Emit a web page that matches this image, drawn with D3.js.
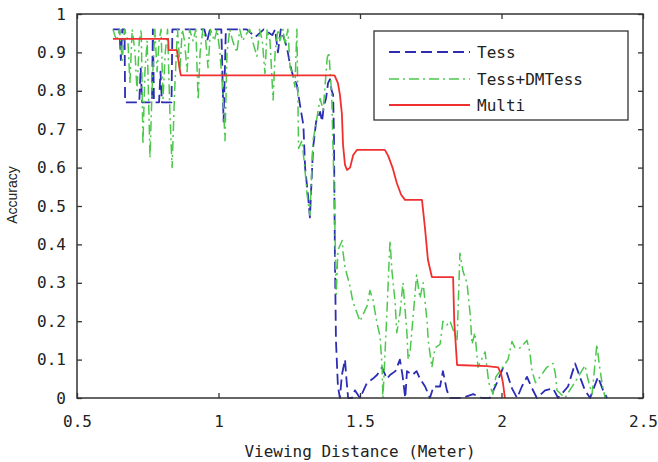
<!DOCTYPE html>
<html>
<head>
<meta charset="utf-8">
<script src="https://cdn.jsdelivr.net/npm/d3@7"></script>
<style>
body { margin: 0; background: #fff; }
.tick text { font-family: "DejaVu Sans Mono", monospace; font-size: 16px; fill: #222; }
</style>
</head>
<body>
<svg id="chart" width="658" height="462"></svg>
<script>
// [distance, accuracy]
var tess = [[0.627,0.96],[0.650,0.96],[0.655,0.88],[0.660,0.96],[0.668,0.96],[0.670,0.77],[0.700,0.77],[0.720,0.77],[0.725,0.86],
  [0.730,0.77],[0.765,0.77],[0.768,0.96],[0.772,0.77],[0.790,0.77],[0.795,0.85],[0.800,0.77],[0.834,0.77],[0.837,0.96],
  [0.900,0.96],[0.950,0.96],[0.960,0.93],[0.970,0.96],[1.010,0.96],[1.018,0.72],[1.026,0.96],[1.100,0.96],[1.130,0.94],
  [1.160,0.96],[1.190,0.945],[1.200,0.96],[1.210,0.90],[1.220,0.96],[1.235,0.93],[1.245,0.90],[1.253,0.867],[1.263,0.84],
  [1.277,0.815],[1.288,0.763],[1.300,0.71],[1.306,0.60],[1.316,0.53],[1.323,0.47],[1.334,0.65],[1.345,0.72],[1.352,0.73],
  [1.359,0.745],[1.366,0.72],[1.372,0.76],[1.380,0.78],[1.387,0.82],[1.394,0.83],[1.400,0.80],[1.405,0.79],[1.408,0.68],
  [1.411,0.40],[1.415,0.15],[1.422,0.03],[1.429,0.0],[1.436,0.06],[1.447,0.10],[1.452,0.05],[1.458,0.0],[1.472,0.0],
  [1.482,0.02],[1.500,0.0],[1.525,0.04],[1.545,0.05],[1.560,0.06],[1.578,0.08],[1.595,0.05],[1.606,0.06],[1.625,0.07],
  [1.641,0.10],[1.650,0.06],[1.660,0.0],[1.666,0.07],[1.685,0.06],[1.700,0.07],[1.712,0.05],[1.730,0.03],[1.747,0.0],
  [1.760,0.03],[1.783,0.03],[1.793,0.07],[1.807,0.02],[1.818,0.0],[1.860,0.0],[1.900,0.01],[1.930,0.0],[1.959,0.0],
  [1.984,0.04],[2.005,0.078],[2.019,0.065],[2.037,0.025],[2.055,0.0],[2.072,0.03],[2.090,0.055],[2.108,0.025],[2.125,0.0],
  [2.154,0.02],[2.182,0.025],[2.200,0.0],[2.235,0.03],[2.260,0.09],[2.277,0.055],[2.295,0.02],[2.313,0.0],[2.341,0.055],
  [2.359,0.02],[2.373,0.0]];

var tessDm = [[0.627,0.96],[0.640,0.93],[0.650,0.96],[0.660,0.88],[0.668,0.96],[0.680,0.93],[0.687,0.82],[0.695,0.96],
  [0.705,0.90],[0.712,0.80],[0.720,0.93],[0.727,0.96],[0.733,0.66],[0.740,0.85],[0.748,0.93],[0.758,0.625],[0.765,0.80],
  [0.775,0.96],[0.783,0.85],[0.790,0.93],[0.797,0.96],[0.804,0.78],[0.812,0.90],[0.820,0.96],[0.828,0.75],[0.836,0.60],
  [0.845,0.80],[0.855,0.96],[0.864,0.86],[0.872,0.96],[0.880,0.93],[0.889,0.85],[0.898,0.96],[0.910,0.93],[0.920,0.96],
  [0.928,0.776],[0.935,0.90],[0.945,0.96],[0.955,0.93],[0.963,0.86],[0.972,0.96],[0.985,0.93],[0.995,0.96],[1.005,0.90],
  [1.015,0.80],[1.023,0.67],[1.030,0.90],[1.040,0.96],[1.050,0.93],[1.065,0.90],[1.075,0.96],[1.085,0.93],[1.100,0.95],
  [1.110,0.96],[1.120,0.93],[1.136,0.89],[1.145,0.96],[1.155,0.93],[1.164,0.845],[1.172,0.96],[1.182,0.93],[1.193,0.776],
  [1.200,0.90],[1.210,0.96],[1.217,0.93],[1.228,0.96],[1.235,0.92],[1.245,0.96],[1.253,0.86],[1.260,0.85],[1.270,0.81],
  [1.277,0.96],[1.283,0.65],[1.295,0.67],[1.305,0.60],[1.313,0.53],[1.323,0.476],[1.334,0.67],[1.348,0.73],[1.359,0.78],
  [1.370,0.75],[1.384,0.885],[1.390,0.90],[1.400,0.79],[1.410,0.495],[1.416,0.27],[1.422,0.385],[1.437,0.41],[1.440,0.38],
  [1.447,0.34],[1.465,0.29],[1.475,0.25],[1.490,0.22],[1.500,0.20],[1.525,0.24],[1.535,0.28],[1.546,0.255],[1.560,0.195],
  [1.571,0.16],[1.578,0.08],[1.581,0.0],[1.595,0.22],[1.606,0.41],[1.613,0.33],[1.624,0.25],[1.630,0.17],[1.641,0.22],
  [1.652,0.30],[1.666,0.167],[1.670,0.10],[1.677,0.12],[1.700,0.32],[1.712,0.26],[1.723,0.30],[1.737,0.20],[1.741,0.15],
  [1.754,0.08],[1.765,0.13],[1.783,0.14],[1.793,0.20],[1.807,0.19],[1.818,0.20],[1.843,0.15],[1.853,0.377],[1.864,0.33],
  [1.878,0.30],[1.889,0.22],[1.896,0.14],[1.906,0.17],[1.917,0.08],[1.942,0.12],[1.955,0.04],[1.970,0.01],[1.980,0.055],
  [2.023,0.10],[2.037,0.147],[2.048,0.13],[2.065,0.13],[2.090,0.15],[2.100,0.12],[2.108,0.07],[2.120,0.04],[2.136,0.055],
  [2.160,0.08],[2.182,0.09],[2.190,0.065],[2.196,0.02],[2.224,0.0],[2.267,0.05],[2.295,0.085],[2.305,0.05],[2.320,0.01],
  [2.337,0.14],[2.345,0.09],[2.355,0.04],[2.366,0.0]];

var multi = [[0.627,0.935],[0.822,0.935],[0.824,0.906],[0.853,0.906],[0.862,0.86],[0.867,0.84],[1.410,0.84],[1.422,0.82],
  [1.429,0.79],[1.436,0.74],[1.440,0.66],[1.447,0.607],[1.454,0.594],[1.465,0.60],[1.476,0.633],[1.489,0.646],[1.588,0.646],
  [1.600,0.63],[1.615,0.60],[1.630,0.56],[1.645,0.53],[1.659,0.516],[1.719,0.516],[1.730,0.44],[1.740,0.36],[1.754,0.315],
  [1.829,0.315],[1.833,0.2],[1.843,0.086],[1.949,0.083],[1.988,0.080],[1.998,0.065],[2.005,0.04],[2.012,0.0]];

var seriesNames = ["Tess", "Tess+DMTess", "Multi"];
var xTicks = [0.5, 1, 1.5, 2, 2.5];
var yTicks = [0, 0.1, 0.2, 0.3, 0.4, 0.5, 0.6, 0.7, 0.8, 0.9, 1];

var svg = d3.select("#chart"),
    margin = {left: 77, right: 15, top: 14, bottom: 64},
    width = 658 - margin.left - margin.right,
    height = 462 - margin.top - margin.bottom,
    g = svg.append("g").attr("transform", "translate(" + margin.left + "," + margin.top + ")");

var x = d3.scaleLinear().domain([0.5, 2.5]).range([0, width]);
var y = d3.scaleLinear().domain([0, 1]).range([height, 0]);

var styles = [
  {color: "#2c2cb4", dash: "11,5", w: 1.8},
  {color: "#4cc84c", dash: "10,4,2,4", w: 1.5},
  {color: "#f03030", dash: null, w: 1.8}
];

// axes, ticks pointing inward
g.append("g").attr("transform", "translate(0," + height + ")")
  .call(d3.axisBottom(x).tickValues(xTicks).tickFormat(d3.format("")).tickSize(-5).tickSizeOuter(0).tickPadding(18));
g.append("g")
  .call(d3.axisLeft(y).tickValues(yTicks).tickFormat(d3.format("")).tickSize(-5).tickSizeOuter(0).tickPadding(11));
g.append("g")
  .call(d3.axisTop(x).tickValues(xTicks).tickFormat("").tickSize(-5).tickSizeOuter(0));
g.append("g").attr("transform", "translate(" + width + ",0)")
  .call(d3.axisRight(y).tickValues(yTicks).tickFormat("").tickSize(-5).tickSizeOuter(0));
g.selectAll(".domain").remove();
g.selectAll(".tick line").attr("stroke", "#333").attr("stroke-width", 1.3);

var line = d3.line().x(function (d) { return x(d[0]); }).y(function (d) { return y(d[1]); });

[tess, tessDm, multi].forEach(function (data, i) {
  g.append("path").datum(data)
    .attr("d", line)
    .attr("fill", "none")
    .attr("stroke", styles[i].color)
    .attr("stroke-width", styles[i].w)
    .attr("stroke-dasharray", styles[i].dash)
    .attr("stroke-linejoin", "round");
});

g.append("rect").attr("width", width).attr("height", height)
  .attr("fill", "none").attr("stroke", "#333").attr("stroke-width", 1.5);

// legend
var legend = svg.append("g").attr("transform", "translate(374,31)");
legend.append("rect").attr("width", 254).attr("height", 89)
  .attr("fill", "#fff").attr("stroke", "#333").attr("stroke-width", 1.3);
var rowY = [21, 48, 74];
seriesNames.forEach(function (name, i) {
  legend.append("line").attr("x1", 15).attr("x2", 96).attr("y1", rowY[i]).attr("y2", rowY[i])
    .attr("stroke", styles[i].color).attr("stroke-width", styles[i].w)
    .attr("stroke-dasharray", styles[i].dash);
  legend.append("text").attr("x", 103).attr("y", rowY[i]).attr("dy", "0.35em")
    .style("font-family", "'DejaVu Sans Mono', monospace").style("font-size", "16px").attr("fill", "#222")
    .text(name);
});

svg.append("text").attr("x", margin.left + width / 2).attr("y", 457)
  .attr("text-anchor", "middle")
  .style("font-family", "'DejaVu Sans Mono', monospace").style("font-size", "16px").attr("fill", "#222")
  .text("Viewing Distance (Meter)");

svg.append("text").attr("transform", "translate(17,195) rotate(-90)")
  .attr("text-anchor", "middle")
  .style("font-family", "'Liberation Sans', Arial, sans-serif").style("font-size", "14px").attr("fill", "#222")
  .text("Accuracy");
</script>
</body>
</html>
